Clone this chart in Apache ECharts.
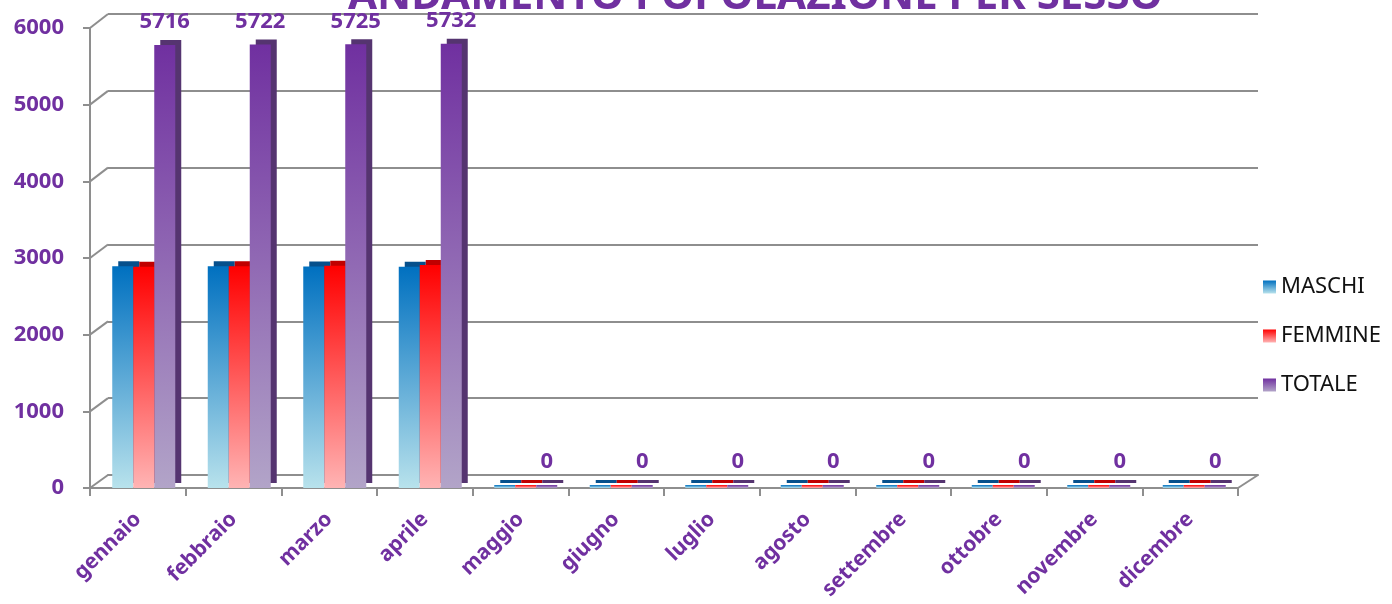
<!DOCTYPE html>
<html>
<head>
<meta charset="utf-8">
<script src="https://cdn.jsdelivr.net/npm/echarts@6/dist/echarts.min.js"></script>
<style>
html,body{margin:0;padding:0;background:#fff;}
#chart{width:1392px;height:604px;}
</style>
</head>
<body>
<div id="chart"></div>
<script>
var mesi = ['gennaio','febbraio','marzo','aprile','maggio','giugno','luglio','agosto','settembre','ottobre','novembre','dicembre'];
var maschi  = [2860, 2862, 2858, 2855, 0, 0, 0, 0, 0, 0, 0, 0];
var femmine = [2856, 2860, 2867, 2877, 0, 0, 0, 0, 0, 0, 0, 0];
var totale  = [5716, 5722, 5725, 5732, 0, 0, 0, 0, 0, 0, 0, 0];
var yTicks = [0, 1000, 2000, 3000, 4000, 5000, 6000];

var viola = '#7030a0';
var grigio = '#8e8e8e';

function grad(top, bottom){
    return new echarts.graphic.LinearGradient(0, 0, 0, 1, [
        {offset: 0, color: top},
        {offset: 1, color: bottom}
    ]);
}

function serie(nome, dati, top, bottom, lato, label){
    return {
        name: nome,
        type: 'bar',
        xAxisIndex: 2,
        yAxisIndex: 2,
        data: dati,
        barWidth: 21,
        barGap: '0%',
        barMinHeight: 3,
        itemStyle: {
            color: grad(top, bottom),
            shadowColor: lato,
            shadowBlur: 0,
            shadowOffsetX: 6,
            shadowOffsetY: -5
        },
        label: label
    };
}

var chart = echarts.init(document.getElementById('chart'));
var option = {
    animation: false,
    title: {
        text: 'ANDAMENTO POPOLAZIONE PER SESSO',
        left: 343,
        top: -29,
        textStyle: {
            fontFamily: 'Noto Sans',
            fontWeight: 'bold',
            fontSize: 42,
            color: viola
        }
    },
    legend: {
        orient: 'vertical',
        left: 1258,
        top: 271,
        itemWidth: 13,
        itemHeight: 13,
        itemGap: 27,
        icon: 'rect',
        data: ['MASCHI', 'FEMMINE', 'TOTALE'],
        textStyle: {fontFamily: 'Noto Sans', fontSize: 22, color: '#111'}
    },
    grid: [
        {left: 90, right: 154, top: 28, bottom: 116},
        {left: 108, right: 134, top: 14, bottom: 129},
        {left: 96, right: 150, top: 23, bottom: 116}
    ],
    xAxis: [
        {
            gridIndex: 0, type: 'category', data: mesi,
            axisLine: {show: true, lineStyle: {color: grigio, width: 2}},
            axisTick: {show: true, length: 8, lineStyle: {color: grigio, width: 2}},
            axisLabel: {
                rotate: 45, margin: 28, interval: 0,
                fontFamily: 'Noto Sans', fontWeight: 'bold', fontSize: 21, color: viola
            }
        },
        {
            gridIndex: 1, type: 'category', data: mesi,
            axisLine: {show: true, lineStyle: {color: grigio, width: 2}},
            axisTick: {show: false}, axisLabel: {show: false}
        },
        {
            gridIndex: 2, type: 'category', data: mesi, show: false
        }
    ],
    yAxis: [
        {
            gridIndex: 0, type: 'value', min: yTicks[0], max: yTicks[yTicks.length - 1], interval: 1000,
            axisLine: {show: true, lineStyle: {color: grigio, width: 2}},
            axisTick: {show: true, length: 7, lineStyle: {color: grigio, width: 2}},
            splitLine: {show: false},
            axisLabel: {
                margin: 26,
                padding: [4, 0, 0, 0],
                formatter: function(v){ return String(v); },
                fontFamily: 'Noto Sans', fontWeight: 'bold', fontSize: 22, color: viola
            }
        },
        {
            gridIndex: 1, type: 'value', min: yTicks[0], max: yTicks[yTicks.length - 1], interval: 1000,
            axisLine: {show: false}, axisTick: {show: false}, axisLabel: {show: false},
            splitLine: {show: true, lineStyle: {color: grigio, width: 2}}
        },
        {
            gridIndex: 2, type: 'value', min: yTicks[0], max: yTicks[yTicks.length - 1], show: false
        }
    ],
    series: [
        serie('MASCHI', maschi, '#0070c0', '#b8e2ec', '#06508c', {show: false}),
        serie('FEMMINE', femmine, '#ff0000', '#ffb4b4', '#c00000', {show: false}),
        serie('TOTALE', totale, '#7030a0', '#b2a4c8', '#553470', {
            show: true,
            position: 'top',
            distance: 12,
            fontFamily: 'Noto Sans',
            fontWeight: 'bold',
            fontSize: 22,
            color: viola
        })
    ]
};
chart.setOption(option);

// diagonali della parete: dal piano frontale a quello di fondo, per ogni tacca
var linee = [];
yTicks.forEach(function(t){
    var a = chart.convertToPixel({gridIndex: 0}, [0, t]);
    var b = chart.convertToPixel({gridIndex: 1}, [0, t]);
    var x0 = chart.convertToPixel({xAxisIndex: 0}, mesi[0]) - (chart.convertToPixel({xAxisIndex: 0}, mesi[1]) - chart.convertToPixel({xAxisIndex: 0}, mesi[0])) / 2;
    var x1 = chart.convertToPixel({xAxisIndex: 1}, mesi[0]) - (chart.convertToPixel({xAxisIndex: 1}, mesi[1]) - chart.convertToPixel({xAxisIndex: 1}, mesi[0])) / 2;
    linee.push({type: 'line', shape: {x1: x0, y1: a[1], x2: x1, y2: b[1]}, style: {stroke: grigio, lineWidth: 2}});
});
var n = mesi.length - 1;
var xe0 = chart.convertToPixel({xAxisIndex: 0}, mesi[n]) + (chart.convertToPixel({xAxisIndex: 0}, mesi[n]) - chart.convertToPixel({xAxisIndex: 0}, mesi[n - 1])) / 2;
var xe1 = chart.convertToPixel({xAxisIndex: 1}, mesi[n]) + (chart.convertToPixel({xAxisIndex: 1}, mesi[n]) - chart.convertToPixel({xAxisIndex: 1}, mesi[n - 1])) / 2;
linee.push({type: 'line', shape: {
    x1: xe0, y1: chart.convertToPixel({yAxisIndex: 0}, 0),
    x2: xe1, y2: chart.convertToPixel({yAxisIndex: 1}, 0)
}, style: {stroke: grigio, lineWidth: 2}});
chart.setOption({graphic: linee});
</script>
</body>
</html>
